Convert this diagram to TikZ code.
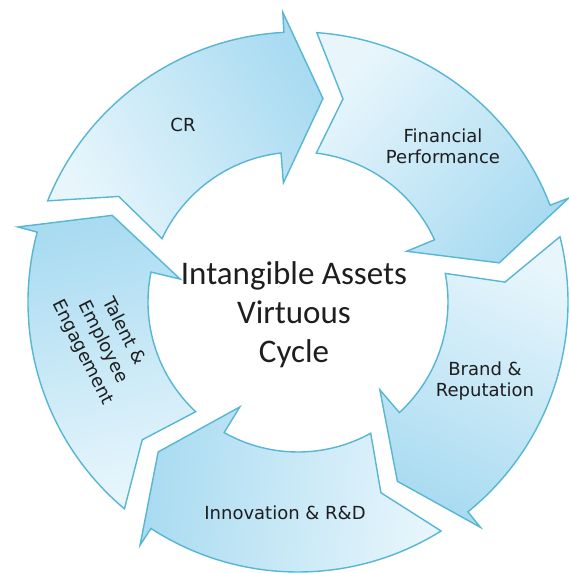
\documentclass[tikz,border=0pt]{standalone}
\usepackage{fontspec}
\setmainfont{DejaVu Sans}
\newfontfamily\calibri{Carlito}
\definecolor{arrowline}{HTML}{56B6D4}
\definecolor{arrowlight}{HTML}{E8F6FC}
\definecolor{arrowdark}{HTML}{A9DBF1}
\definecolor{labeltext}{HTML}{1E1E1E}
\tikzset{
  cyclearrow/.style={draw=arrowline,line width=1.4pt,line join=miter,top color=arrowlight,bottom color=arrowdark},
  steplabel/.style={text=labeltext,align=center,font=\fontsize{18}{21}\selectfont}
}
\begin{document}
\begin{tikzpicture}[x=1pt,y=1pt]
\useasboundingbox (-298,-271) rectangle (271,302);
% five curved arrows, each turned 72 degrees clockwise from the last
\foreach \a [evaluate=\a as \s using {\a+120}] in {0,-72,-144,-216,-288}
  \path[cyclearrow,shading angle=\s]
    (\a+158:270) -- (\a+149.5:208) -- (\a+155:150)
    arc[start angle=\a+155,end angle=\a+96.5,radius=150]
    -- (\a+97:120) -- (\a+83:205) -- (\a+93:290) -- (\a+93:270)
    arc[start angle=\a+93,end angle=\a+158,radius=270] -- cycle;
\node[steplabel] (cr) at (-115,177) {CR};
\node[steplabel] (finance) at (145,156) {Financial\\Performance};
\node[steplabel] (brand) at (187,-79) {Brand \&\\Reputation};
\node[steplabel] (innovation) at (-13,-211) {Innovation \& R\&D};
\node[steplabel,font=\fontsize{18}{23}\selectfont,rotate=-63] (talent) at (-195,-40) {Talent \&\\Employee\\Engagement};
\node[text=labeltext,align=center,font=\calibri\fontsize{33}{39}\selectfont] (title) at (-4,-13) {Intangible Assets\\Virtuous\\Cycle};
\end{tikzpicture}
\end{document}
